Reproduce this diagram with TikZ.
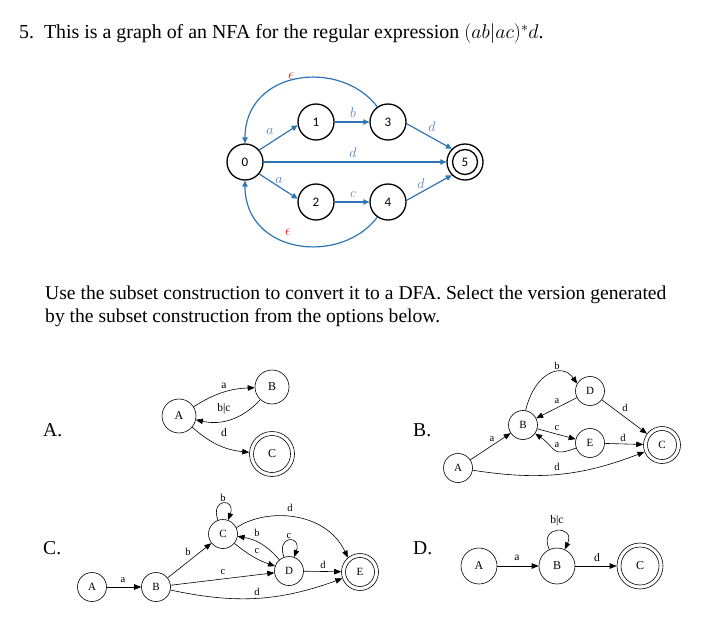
\RequirePackage{fix-cm}
\documentclass[tikz,border=0pt]{standalone}
\usepackage{fontspec}
\setmainfont{Liberation Serif}
\newfontfamily\nfafont{Carlito}
\usetikzlibrary{arrows.meta}
\definecolor{nfablue}{RGB}{46,117,182}
\definecolor{lblblue}{RGB}{90,130,195}
\definecolor{epsred}{RGB}{235,30,30}
\begin{document}
\begin{tikzpicture}[x=1pt,y=1pt,
  txt/.style={anchor=base west, inner sep=0pt, font=\fontsize{19.6}{23}\selectfont},
  nfanode/.style={circle, draw, line width=1.3pt, minimum size=36pt, inner sep=0pt, font=\nfafont\fontsize{13}{13}\selectfont},
  nfaacc/.style={nfanode, path picture={\draw[line width=1.3pt] (path picture bounding box.center) circle (12.5pt);}},
  nfaedge/.style={draw=nfablue, line width=1.2pt, -{Triangle[length=6pt,width=5.5pt]}},
  nfalbl/.style={text=lblblue, font=\fontsize{14}{14}\selectfont, inner sep=0pt},
  epslbl/.style={text=epsred, font=\fontsize{15}{15}\selectfont, inner sep=0pt},
  g/.style={line width=0.6pt, -{Triangle[length=7pt,width=5.5pt]}},
  lblA/.style={font=\fontsize{11.5}{11.5}\selectfont, inner sep=0pt},
  lblB/.style={font=\fontsize{10.5}{10.5}\selectfont, inner sep=0pt},
  stA/.style={circle, draw, line width=0.6pt, minimum size=34pt, inner sep=0pt, font=\fontsize{12}{12}\selectfont},
  accA/.style={stA, minimum size=45pt, path picture={\draw[line width=0.6pt] (path picture bounding box.center) circle (18.5pt);}},
  stB/.style={circle, draw, line width=0.6pt, minimum size=29pt, inner sep=0pt, font=\fontsize{11}{11}\selectfont},
  accB/.style={stB, minimum size=37pt, path picture={\draw[line width=0.6pt] (path picture bounding box.center) circle (14.5pt);}},
  stD/.style={circle, draw, line width=0.6pt, minimum size=36pt, inner sep=0pt, font=\fontsize{12}{12}\selectfont},
  accD/.style={stD, minimum size=46pt, path picture={\draw[line width=0.6pt] (path picture bounding box.center) circle (19pt);}}
]
\useasboundingbox (0,0) rectangle (728,-636);

% texts
\node[txt, font=\fontsize{19.9}{23}\selectfont] (title) at (19,-39) {5.\hspace{0.5em}This is a graph of an NFA for the regular expression $(ab|ac)^*d$.};
\node[txt] (para1) at (45,-299) {Use the subset construction to convert it to a DFA. Select the version generated};
\node[txt] (para2) at (45,-322) {by the subset construction from the options below.};
\node[txt] (optA) at (43,-436) {A.};
\node[txt] (optB) at (413,-436) {B.};
\node[txt] (optC) at (43,-554) {C.};
\node[txt] (optD) at (413,-554) {D.};

% NFA
\node[nfanode] (n0) at (245,-162) {0};
\node[nfanode] (n1) at (316,-122) {1};
\node[nfanode] (n3) at (388,-122) {3};
\node[nfaacc]  (n5) at (465,-162) {5};
\node[nfanode] (n2) at (316,-202) {2};
\node[nfanode] (n4) at (388,-202) {4};
\draw[nfaedge] (n0.40) -- (n1.190);
\draw[nfaedge] (n1) -- (n3);
\draw[nfaedge] (n3.-5) -- (n5.135);
\draw[nfaedge] (n0) -- (n5);
\draw[nfaedge] (n0.-40) -- (n2.170);
\draw[nfaedge] (n2) -- (n4);
\draw[nfaedge] (n4.5) -- (n5.225);
\draw[nfaedge] (n3.125) .. controls (340,-58) and (245,-70) .. (n0.north);
\draw[nfaedge] (n4.235) .. controls (340,-266) and (245,-254) .. (n0.south);
\node[nfalbl] (l01) at (270,-131) {$a$};
\node[nfalbl] (l13) at (353,-113) {$b$};
\node[nfalbl] (l35) at (432,-127) {$d$};
\node[nfalbl] (l05) at (353,-153) {$d$};
\node[nfalbl] (l02) at (279,-180) {$a$};
\node[nfalbl] (l24) at (353,-194) {$c$};
\node[nfalbl] (l45) at (421,-184) {$d$};
\node[epslbl] (e30) at (291,-76) {$\epsilon$};
\node[epslbl] (e40) at (288,-232) {$\epsilon$};

% Option A
\node[stA]  (aA) at (179,-416) {A};
\node[stA]  (aB) at (272,-387) {B};
\node[accA] (aC) at (272,-454) {C};
\draw[g] (aA) to[bend left=15] (aB);
\draw[g] (aB) to[bend left=30] (aA);
\draw[g] (aA) to[bend right=18] (aC);
\node[lblA] (aab) at (224,-386) {a};
\node[lblA] (aba) at (224,-409) {b|c};
\node[lblA] (aac) at (224,-433) {d};

% Option B
\node[stB]  (bA) at (458,-468) {A};
\node[stB]  (bB) at (523,-425) {B};
\node[stB]  (bD) at (590,-391) {D};
\node[stB]  (bE) at (590,-443) {E};
\node[accB] (bC) at (662,-445) {C};
\draw[g] (bA) -- (bB);
\draw[g] (bB.80) .. controls (535,-372) and (562,-362) .. (bD.150);
\draw[g] (bD) -- (bB);
\draw[g] (bB) -- (bE);
\draw[g] (bE.200) to[out=200,in=-35,looseness=1.6] (bB.-35);
\draw[g] (bD) -- (bC);
\draw[g] (bE) -- (bC);
\draw[g] (bA) to[bend right=15] (bC);
\node[lblB] (bab) at (492,-439) {a};
\node[lblB] (bbd) at (557,-366) {b};
\node[lblB] (bdb) at (557,-401) {a};
\node[lblB] (bbe) at (557,-428) {c};
\node[lblB] (beb) at (557,-445) {a};
\node[lblB] (bdc) at (625,-408) {d};
\node[lblB] (bec) at (623,-438) {d};
\node[lblB] (bac) at (557,-467) {d};

% Option C
\node[stB]  (cA) at (92,-587) {A};
\node[stB]  (cB) at (156,-587) {B};
\node[stB]  (cC) at (223,-534) {C};
\node[stB]  (cD) at (289,-571) {D};
\node[accB] (cE) at (360,-572) {E};
\draw[g] (cA) -- (cB);
\draw[g] (cB) -- (cC);
\draw[g] (cC.110) to[out=110,in=70,looseness=6] (cC.70);
\draw[g] (cC.25) .. controls (265,-508) and (325,-510) .. (cE.130);
\draw[g] (cD) to[bend right=20] (cC);
\draw[g] (cC) to[bend right=10] (cD);
\draw[g] (cD.110) to[out=110,in=70,looseness=6] (cD.70);
\draw[g] (cD) -- (cE);
\draw[g] (cB) -- (cD);
\draw[g] (cB) to[bend right=16] (cE);
\node[lblB] (cab) at (123,-580) {a};
\node[lblB] (cbc) at (188,-552) {b};
\node[lblB] (ccc) at (223,-498) {b};
\node[lblB] (cce) at (290,-508) {d};
\node[lblB] (cdc) at (257,-533) {b};
\node[lblB] (ccd) at (257,-551) {c};
\node[lblB] (cdd) at (289,-536) {c};
\node[lblB] (cde) at (323,-565) {d};
\node[lblB] (cbd) at (223,-572) {c};
\node[lblB] (cbe) at (257,-592) {d};

% Option D
\node[stD]  (dA) at (479,-566) {A};
\node[stD]  (dB) at (557,-566) {B};
\node[accD] (dC) at (640,-566) {C};
\draw[g] (dA) -- (dB);
\draw[g] (dB.115) to[out=115,in=65,looseness=4.5] (dB.65);
\draw[g] (dB) -- (dC);
\node[lblA] (dab) at (517,-558) {a};
\node[lblA] (dbb) at (557,-521) {b|c};
\node[lblA] (dbc) at (597,-558) {d};
\end{tikzpicture}
\end{document}
